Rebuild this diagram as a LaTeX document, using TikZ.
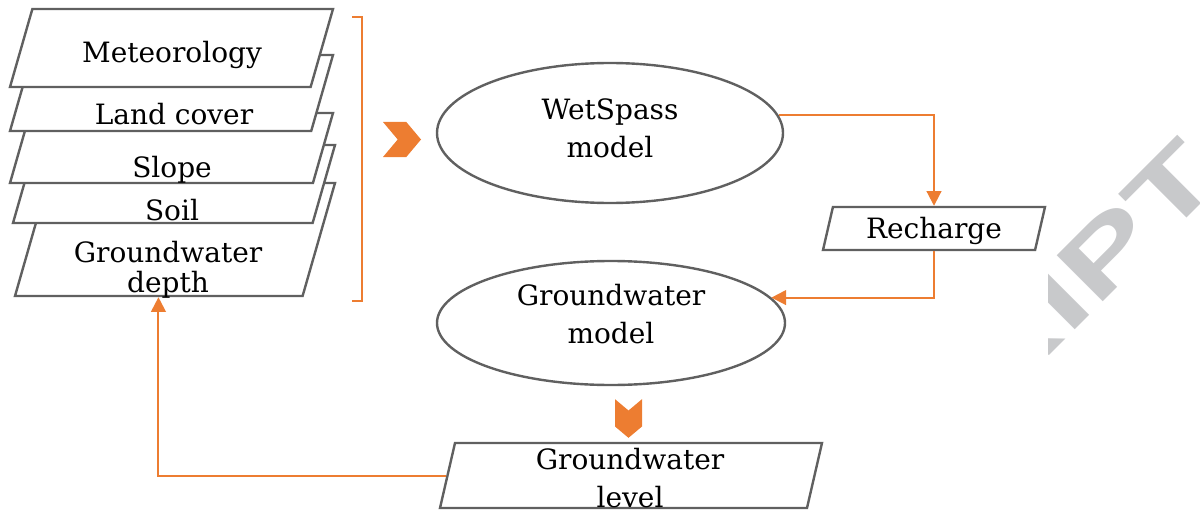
\documentclass[tikz,border=0pt]{standalone}
\usepackage{fontspec}
\setmainfont{DejaVu Serif}
\newfontfamily\wmfont{Liberation Sans}
\usetikzlibrary{shapes.geometric,shapes.symbols,arrows.meta}

\definecolor{flowor}{RGB}{237,125,49}
\definecolor{boxgray}{RGB}{96,96,96}
\definecolor{wmgray}{RGB}{200,201,203}

\tikzset{every picture/.style={line width=0.75pt}}
\tikzset{
  layer/.style={trapezium, trapezium left angle=74, trapezium right angle=106, trapezium stretches body=true, draw=boxgray, line width=1.8pt, fill=white, inner xsep=2pt},
  iobox/.style={trapezium, trapezium left angle=77, trapezium right angle=103, trapezium stretches body=true, draw=boxgray, line width=1.8pt, fill=white, inner xsep=2pt},
  model/.style={ellipse, draw=boxgray, line width=1.8pt, align=center, text depth=7.5pt},
  chev/.style={signal, fill=flowor, signal pointer angle=100, inner sep=0pt},
  flow/.style={draw=flowor, line width=1.5pt, -{Triangle[width=11pt,length=11pt]}}
}

\begin{document}
\begin{tikzpicture}[x=0.75pt,y=0.75pt,yscale=-1,xscale=1, every node/.style={font=\fontsize{21}{28.5}\selectfont}]
        \useasboundingbox (0,0) rectangle (1200,517);

        %Watermark
        \begin{scope}
        \clip (1048,0) rectangle (1200,517);
        \node[rotate=45, anchor=east, text=wmgray, inner sep=0pt, font=\wmfont\bfseries\fontsize{71}{71}\selectfont] (wm) at (1202,157) {\scalebox{1.5}[1]{RIPT}};
        \end{scope}

        %Input layers
        \node[layer, minimum width=240pt, inner ysep=42.375pt] (dep) at (175,239.5) {};
        \node[layer, minimum width=241.5pt, inner ysep=29.25pt] (soil) at (174,184) {};
        \node[layer, minimum width=242.25pt, inner ysep=26.25pt] (slope) at (171.5,148) {};
        \node[layer, minimum width=242.25pt, inner ysep=28.5pt] (land) at (171.5,93) {};
        \node[layer, minimum width=242.25pt, inner ysep=29.25pt] (met) at (171.5,48) {};

        % Text Node
        \node[anchor=base] (met-t) at (172,63) {Meteorology};
        % Text Node
        \node[anchor=base] (land-t) at (174,124) {Land cover};
        % Text Node
        \node[anchor=base] (slope-t) at (172,177) {Slope};
        % Text Node
        \node[anchor=base] (soil-t) at (172,220) {Soil};
        % Text Node
        \node[align=center, font=\fontsize{21}{22.5}\selectfont] (dep-t) at (168,270) {Groundwater\\depth};

        %Bracket
        \draw[draw=flowor, line width=1pt] (352,17) -- (362,17) -- (362,301) -- (352,301);

        %Models
        \node[model, minimum width=259.5pt, minimum height=105pt] (wet) at (610,133) {WetSpass\\model};
        \node[model, minimum width=261pt, minimum height=93pt, text depth=13.5pt] (gwm) at (611,323) {Groundwater\\model};

        %Outputs
        \node[iobox, minimum width=166.5pt, inner ysep=16.125pt] (rech) at (934,228.5) {};
        \node[iobox, minimum width=286.5pt, inner ysep=24.375pt] (lvl) at (631,475.5) {};

        % Text Node
        \node[anchor=base] (rech-t) at (934,238) {Recharge};
        % Text Node
        \node[align=center, inner sep=0pt] (lvl-t) at (630,478.5) {Groundwater\\level};

        %Chevrons
        \node[chev, signal to=east, signal from=west, minimum width=28.5pt, minimum height=26.25pt] (chev-in) at (402,139.5) {};
        \node[chev, signal to=south, signal from=north, minimum width=20.25pt, minimum height=12pt] (chev-out) at (628.5,418.5) {};

        %Connectors
        \draw[flow] (wet.6) -| (rech.north);
        \draw[flow] (rech.south) |- (gwm.9);
        \draw[flow] (lvl.left side) -| (dep.bottom side);
\end{tikzpicture}
\end{document}
